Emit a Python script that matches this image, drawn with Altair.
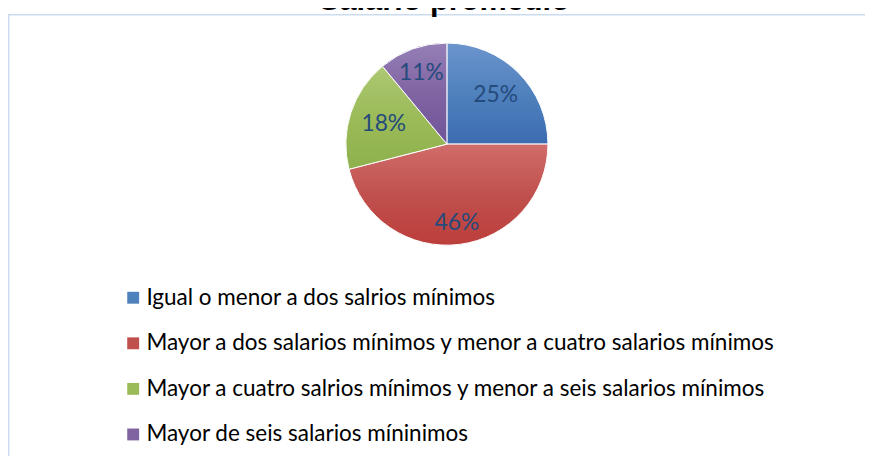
import altair as alt
import pandas as pd

titulo = "Salario promedio"
categorias = [
    "Igual o menor a dos salrios mínimos",
    "Mayor a dos salarios mínimos y menor a cuatro salarios mínimos",
    "Mayor a cuatro salrios mínimos y menor a seis salarios mínimos",
    "Mayor de seis salarios míninimos",
]
porcentajes = [25, 46, 18, 11]
etiquetas = ["25%", "46%", "18%", "11%"]
orden = [1, 2, 3, 4]

# style (not data)
colores = ["#4F81BD", "#C0504D", "#9BBB59", "#8064A2"]
colores_claros = ["#6C94CC", "#D06D6A", "#ADC873", "#957FB6"]
colores_oscuros = ["#3C6CB0", "#BC3E3B", "#8EB14C", "#6F5499"]
radios_etiqueta = [69.5, 80, 67, 76]

df = pd.DataFrame({
    "categoria": categorias,
    "valor": porcentajes,
    "etiqueta": etiquetas,
    "orden": orden,
})

CX, CY = 443, 135.3
R = 102

base = alt.Chart(df).encode(
    theta=alt.Theta("valor:Q", stack=True),
    order=alt.Order("orden:Q"),
)

arcos = base.mark_arc(radius=R, stroke="white", strokeWidth=1).encode(
    x=alt.value(CX),
    y=alt.value(CY),
    color=alt.Color(
        "categoria:N",
        sort=categorias,
        scale=alt.Scale(domain=categorias, range=colores),
        legend=alt.Legend(
            orient="none",
            legendX=115,
            legendY=279,
            title=None,
            symbolType="square",
            symbolSize=144,
            symbolStrokeWidth=0,
            symbolOpacity=1,
            labelFont="Lato",
            labelFontSize=22.7,
            labelColor="#000000",
            labelOffset=2,
            labelLimit=0,
            rowPadding=22,
            padding=0,
        ),
    ),
)

acum = alt.Chart(df).transform_window(
    fin="sum(valor)", sort=[alt.SortField("orden")], frame=[None, 0]
).transform_calculate(
    inicio="datum.fin - datum.valor",
    medio="datum.fin - datum.valor / 2",
)

capas = []
textos = []
for k in range(len(categorias)):
    grad = alt.Gradient(
        gradient="linear", x1=0, y1=0, x2=0, y2=1,
        stops=[
            alt.GradientStop(color=colores_claros[k], offset=0),
            alt.GradientStop(color=colores[k], offset=0.5),
            alt.GradientStop(color=colores_oscuros[k], offset=1),
        ],
    )
    sel = acum.transform_filter(alt.datum.orden == orden[k])
    capas.append(
        sel.mark_arc(radius=R, fill=grad, stroke="white", strokeWidth=1).encode(
            theta=alt.Theta("inicio:Q", scale=alt.Scale(domain=[0, 100])),
            theta2="fin:Q",
            x=alt.value(CX),
            y=alt.value(CY),
        )
    )
    textos.append(
        sel.mark_text(
            radius=radios_etiqueta[k], font="Lato", fontSize=23, color="#254A7C"
        ).encode(
            theta=alt.Theta("medio:Q", scale=alt.Scale(domain=[0, 100])),
            x=alt.value(CX),
            y=alt.value(CY),
            text="etiqueta:N",
        )
    )

tdf = pd.DataFrame({"t": [titulo]})
titulo_mk = alt.Chart(tdf).mark_text(
    font="Liberation Sans", fontWeight="bold", fontSize=31,
    baseline="alphabetic", align="center", color="#000000"
).encode(text="t:N", x=alt.value(440.5), y=alt.value(0))

borde_v = alt.Chart(tdf).mark_rule(color="#CCDCF0", strokeWidth=1.5).encode(
    x=alt.value(0.75), y=alt.value(4), y2=alt.value(460)
)
borde_h = alt.Chart(tdf).mark_rule(color="#CCDCF0", strokeWidth=1.5).encode(
    x=alt.value(0), x2=alt.value(866), y=alt.value(4.7)
)

chart = alt.layer(borde_v, borde_h, arcos, *capas, *textos, titulo_mk).properties(
    width=865, height=448, autosize=alt.AutoSizeParams(type="none"), padding=0
).resolve_scale(theta="independent").configure_view(stroke=None)

chart.save("out.html", embed_options={"renderer": "svg", "actions": False})
